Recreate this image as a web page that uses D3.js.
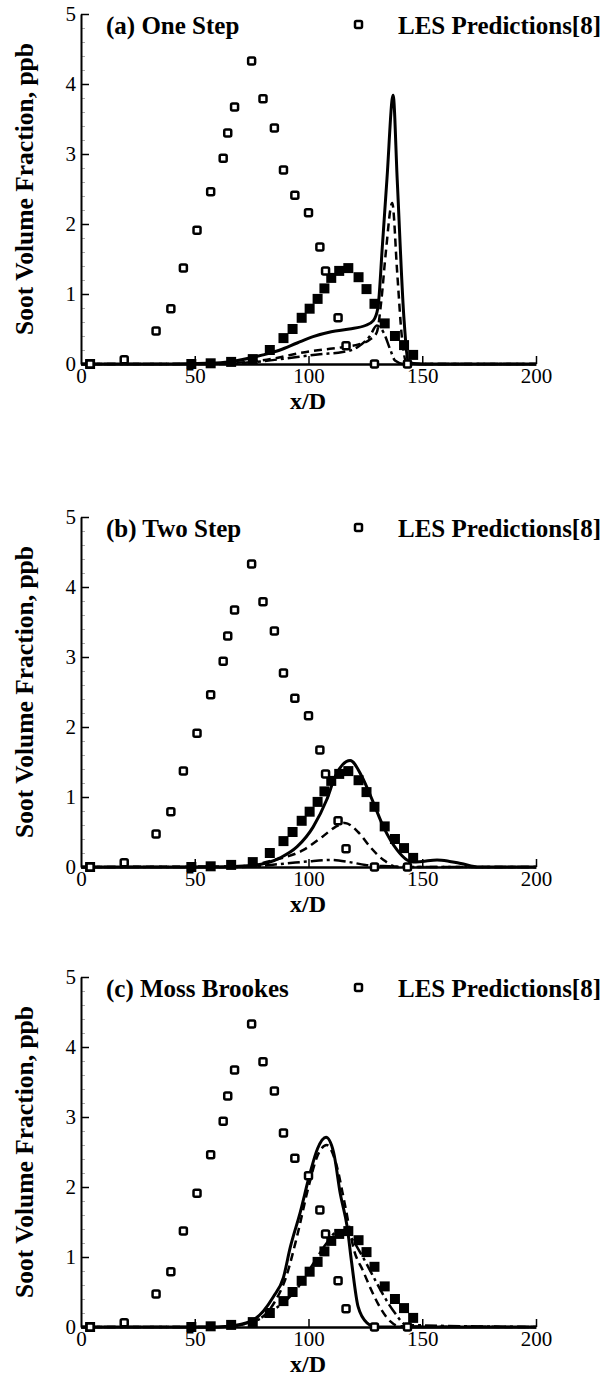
<!DOCTYPE html>
<html>
<head>
<meta charset="UTF-8">
<script src="https://d3js.org/d3.v7.min.js"></script>
</head>
<body style="margin:0">
<svg id="chart" width="605" height="1378"></svg>
<script>
// LES predictions (open squares) - same in every panel
const lesX = [4, 19, 33, 39.5, 45, 51, 57, 62.5, 64.5, 67.5, 75, 80, 85, 89, 94, 100, 105, 107.5, 113, 116.5, 129, 143.5];
const lesY = [0, 0.06, 0.47, 0.79, 1.37, 1.91, 2.46, 2.94, 3.3, 3.67, 4.33, 3.79, 3.37, 2.77, 2.41, 2.16, 1.67, 1.33, 0.66, 0.26, 0, 0];

// measurements (filled squares)
const expX = [4, 48.5, 57, 66, 75.5, 83, 89, 93, 97, 100.5, 104, 107, 110, 113.5, 117.5, 122, 125.5, 129, 133.5, 138, 142, 146];
const expY = [0, 0, 0.01, 0.03, 0.07, 0.2, 0.37, 0.5, 0.66, 0.79, 0.93, 1.08, 1.23, 1.33, 1.37, 1.24, 1.07, 0.86, 0.58, 0.4, 0.27, 0.13];

// (a) One Step
const aSolidX = [0, 40, 55, 65, 80, 87.5, 95, 102, 110, 118, 125, 128.5, 130.5, 132.5, 134.5, 137.2, 139, 142, 144, 150, 200];
const aSolidY = [0, 0, 0.01, 0.03, 0.13, 0.2, 0.3, 0.39, 0.46, 0.5, 0.55, 0.62, 0.8, 1.7, 2.65, 3.84, 2.63, 0.63, 0.02, 0, 0];
const aDashX = [0, 50, 70, 85, 95, 105, 115, 122, 127, 130, 132, 134, 136.8, 139, 141, 143, 150, 200];
const aDashY = [0, 0, 0.02, 0.08, 0.15, 0.2, 0.24, 0.28, 0.35, 0.45, 0.9, 1.6, 2.3, 1.3, 0.4, 0.03, 0, 0];
const aDotX = [0, 60, 80, 95, 105, 115, 122, 127, 130, 133, 136, 138, 142, 200];
const aDotY = [0, 0, 0.04, 0.1, 0.14, 0.17, 0.25, 0.4, 0.55, 0.45, 0.2, 0.05, 0, 0];

// (b) Two Step
const bSolidX = [0, 60, 75, 87.5, 95, 102, 108, 111.7, 118.3, 123.5, 128, 133, 139, 143.3, 146, 150, 156.5, 162, 167, 175, 200];
const bSolidY = [0, 0, 0.02, 0.13, 0.29, 0.57, 0.96, 1.29, 1.52, 1.29, 0.96, 0.57, 0.24, 0.1, 0.07, 0.08, 0.1, 0.08, 0.05, 0, 0];
const bDashX = [0, 70, 85, 97.6, 106, 111.7, 116, 121.8, 127, 133, 139, 200];
const bDashY = [0, 0.01, 0.1, 0.24, 0.43, 0.57, 0.63, 0.5, 0.29, 0.1, 0, 0];
const bDotX = [0, 70, 90, 100, 110, 118, 125, 135, 145, 200];
const bDotY = [0, 0, 0.05, 0.08, 0.1, 0.07, 0.03, 0.01, 0, 0];

// (c) Moss Brookes
const cSolidX = [0, 60, 67, 75.7, 84.5, 89, 92, 96.3, 100.7, 104, 107.7, 111, 114, 117, 119, 121.8, 125.7, 130, 200];
const cSolidY = [0, 0, 0.02, 0.1, 0.43, 0.71, 1.14, 1.63, 2.2, 2.55, 2.71, 2.5, 1.9, 1.43, 0.91, 0.29, 0.06, 0, 0];
const cDashX = [0, 60, 70, 80, 85, 90, 95, 100, 104, 108, 112, 116, 120, 124, 128, 132, 136, 140, 200];
const cDashY = [0, 0, 0.03, 0.15, 0.35, 0.7, 1.3, 2.0, 2.45, 2.6, 2.35, 1.75, 1.1, 0.8, 0.5, 0.25, 0.08, 0.01, 0];
const cDotX = [0, 60, 75, 85, 95, 102, 108, 113, 118, 123, 128, 133, 138, 143, 200];
const cDotY = [0, 0, 0.07, 0.25, 0.55, 0.9, 1.2, 1.37, 1.3, 1.05, 0.75, 0.45, 0.2, 0.03, 0];

const xTicks = [0, 50, 100, 150, 200];
const yTicks = [0, 1, 2, 3, 4, 5];
const titles = ["(a) One Step", "(b) Two Step", "(c) Moss Brookes"];
const legendLabel = "LES Predictions[8]";
const xLabel = "x/D";
const yLabel = "Soot Volume Fraction, ppb";

const FONT = 'Liberation Serif';
const zip = (xs, ys) => xs.map((x, i) => ({ x: x, y: ys[i] }));

const panels = [
    { title: titles[0], top: 14, bottom: 364, solid: zip(aSolidX, aSolidY), dash: zip(aDashX, aDashY), dot: zip(aDotX, aDotY) },
    { title: titles[1], top: 517, bottom: 867, solid: zip(bSolidX, bSolidY), dash: zip(bDashX, bDashY), dot: zip(bDotX, bDotY) },
    { title: titles[2], top: 977, bottom: 1327, solid: zip(cSolidX, cSolidY), dash: zip(cDashX, cDashY), dot: zip(cDotX, cDotY) }
];

const svg = d3.select('#chart');
const x = d3.scaleLinear().domain([0, 200]).range([81, 536]);

panels.forEach(p => {
    const y = d3.scaleLinear().domain([0, 5]).range([p.bottom, p.top]);
    const g = svg.append('g');

    // minor ticks on y
    g.append('g')
        .attr('transform', `translate(${x(0)},0)`)
        .call(d3.axisRight(y).tickValues(d3.range(0, 5.01, 0.2)).tickSize(4).tickFormat(''))
        .call(a => a.select('.domain').remove())
        .selectAll('line').attr('stroke', '#aaa').attr('stroke-width', 1);

    // y axis, ticks pointing inside
    const yAx = g.append('g')
        .attr('transform', `translate(${x(0)},0)`)
        .call(d3.axisRight(y).tickValues(yTicks).tickSize(8).tickSizeOuter(0).tickFormat(d3.format('d')));
    yAx.select('.domain').attr('stroke-width', 2);
    yAx.selectAll('line').attr('stroke-width', 1.5);
    yAx.selectAll('text').attr('text-anchor', 'end').attr('x', -5)
        .style('font-family', FONT).style('font-size', '21px').attr('fill', '#000');

    // x axis, ticks pointing up
    const xAx = g.append('g')
        .attr('transform', `translate(0,${p.bottom})`)
        .call(d3.axisTop(x).tickValues(xTicks).tickSize(8).tickSizeOuter(0).tickFormat(d3.format('d')));
    xAx.select('.domain').attr('stroke-width', 2.5);
    xAx.selectAll('line').attr('stroke-width', 1.5);
    xAx.selectAll('text').attr('y', 19).attr('dy', 0)
        .style('font-family', FONT).style('font-size', '21px').attr('fill', '#000');
    xAx.selectAll('.tick').filter(d => d === 0).select('line').remove();

    // axis titles
    g.append('text')
        .attr('x', 308).attr('y', p.bottom + 45)
        .attr('text-anchor', 'middle')
        .style('font-family', FONT).style('font-size', '24px').style('font-weight', 'bold')
        .text(xLabel);
    g.append('text')
        .attr('transform', `translate(33,${(p.top + p.bottom) / 2}) rotate(-90)`)
        .attr('text-anchor', 'middle')
        .style('font-family', FONT).style('font-size', '25.5px').style('font-weight', 'bold')
        .text(yLabel);

    // panel title and legend
    g.append('text')
        .attr('x', 106).attr('y', p.top + 20)
        .style('font-family', FONT).style('font-size', '25px').style('font-weight', 'bold')
        .text(p.title);
    g.append('rect')
        .attr('x', 355).attr('y', p.top + 7).attr('width', 7).attr('height', 7).attr('rx', 1.5)
        .attr('fill', '#fff').attr('stroke', '#000').attr('stroke-width', 2.5);
    g.append('text')
        .attr('x', 398).attr('y', p.top + 20)
        .style('font-family', FONT).style('font-size', '25px').style('font-weight', 'bold')
        .text(legendLabel);

    // model lines
    const line = d3.line().x(d => x(d.x)).y(d => y(d.y)).curve(d3.curveMonotoneX);
    const styles = [
        { data: p.dot, dash: '12,4,3,4', w: 2.5 },
        { data: p.dash, dash: '8,5', w: 2.5 },
        { data: p.solid, dash: null, w: 3 }
    ];
    styles.forEach(s => {
        g.append('path')
            .datum(s.data)
            .attr('fill', 'none')
            .attr('stroke', '#000')
            .attr('stroke-width', s.w)
            .attr('stroke-dasharray', s.dash)
            .attr('d', line);
    });

    // filled squares
    g.selectAll('.exp')
        .data(zip(expX, expY))
        .enter().append('rect')
        .attr('x', d => x(d.x) - 5).attr('y', d => y(d.y) - 5)
        .attr('width', 10).attr('height', 10)
        .attr('fill', '#000');

    // open squares
    g.selectAll('.les')
        .data(zip(lesX, lesY))
        .enter().append('rect')
        .attr('x', d => x(d.x) - 3.5).attr('y', d => y(d.y) - 3.5)
        .attr('width', 7).attr('height', 7).attr('rx', 1.5)
        .attr('fill', '#fff').attr('stroke', '#000').attr('stroke-width', 2.5);
});
</script>
</body>
</html>
